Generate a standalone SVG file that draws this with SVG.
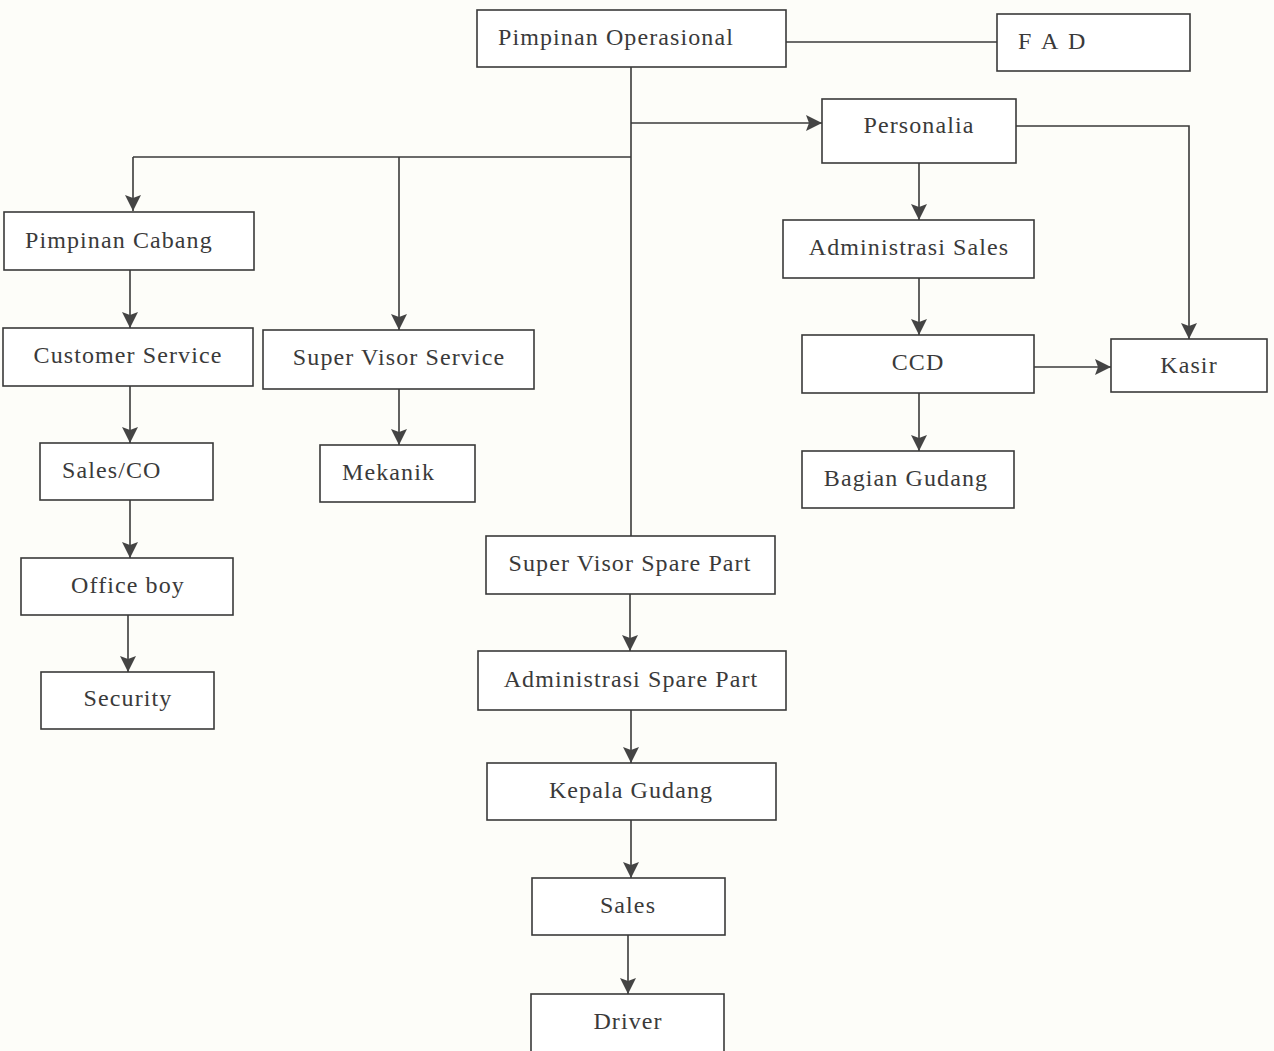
<svg xmlns="http://www.w3.org/2000/svg" width="1274" height="1051" viewBox="0 0 1274 1051">
<style>
.box{fill:#ffffff;stroke:#3a3a3a;stroke-width:1.6}
.lbl{font-family:"Liberation Serif","Times New Roman",serif;font-size:24px;letter-spacing:1.1px;fill:#3a3a3a}
.c{text-anchor:middle}
.ln{fill:none;stroke:#3a3a3a;stroke-width:1.6}
</style>
<defs>
<marker id="ah" markerUnits="userSpaceOnUse" markerWidth="18" markerHeight="18" refX="16" refY="8" orient="auto">
<path d="M0,0 L16,8 L0,16 L3,8 Z" fill="#444"/>
</marker>
</defs>
<rect width="1274" height="1051" fill="#fdfdf9"/>
<g id="connectors">
<line class="ln" x1="786" y1="42" x2="997" y2="42"/>
<line class="ln" x1="631" y1="67" x2="631" y2="537"/>
<line class="ln" x1="631" y1="123" x2="822" y2="123" marker-end="url(#ah)"/>
<polyline class="ln" points="1016,126 1189,126 1189,339" marker-end="url(#ah)"/>
<line class="ln" x1="133" y1="157" x2="631" y2="157"/>
<polyline class="ln" points="133,157 133,211" marker-end="url(#ah)"/>
<line class="ln" x1="399" y1="157" x2="399" y2="330" marker-end="url(#ah)"/>
<line class="ln" x1="130" y1="270" x2="130" y2="328" marker-end="url(#ah)"/>
<line class="ln" x1="130" y1="386" x2="130" y2="443" marker-end="url(#ah)"/>
<line class="ln" x1="130" y1="500" x2="130" y2="558" marker-end="url(#ah)"/>
<line class="ln" x1="128" y1="615" x2="128" y2="672" marker-end="url(#ah)"/>
<line class="ln" x1="399" y1="389" x2="399" y2="445" marker-end="url(#ah)"/>
<line class="ln" x1="919" y1="163" x2="919" y2="220" marker-end="url(#ah)"/>
<line class="ln" x1="919" y1="278" x2="919" y2="335" marker-end="url(#ah)"/>
<line class="ln" x1="1034" y1="367" x2="1111" y2="367" marker-end="url(#ah)"/>
<line class="ln" x1="919" y1="393" x2="919" y2="451" marker-end="url(#ah)"/>
<line class="ln" x1="630" y1="594" x2="630" y2="651" marker-end="url(#ah)"/>
<line class="ln" x1="631" y1="710" x2="631" y2="763" marker-end="url(#ah)"/>
<line class="ln" x1="631" y1="820" x2="631" y2="878" marker-end="url(#ah)"/>
<line class="ln" x1="628" y1="935" x2="628" y2="994" marker-end="url(#ah)"/>
</g>
<g id="pimpinan-operasional"><rect class="box" x="477" y="10" width="309" height="57"/><text class="lbl" x="498" y="45">Pimpinan Operasional</text></g>
<g id="fad"><rect class="box" x="997" y="14" width="193" height="57"/><text class="lbl" x="1018" y="49" style="letter-spacing:2.5px">F A D</text></g>
<g id="personalia"><rect class="box" x="822" y="99" width="194" height="64"/><text class="lbl c" x="919" y="133">Personalia</text></g>
<g id="pimpinan-cabang"><rect class="box" x="4" y="212" width="250" height="58"/><text class="lbl" x="25" y="248">Pimpinan Cabang</text></g>
<g id="customer-service"><rect class="box" x="3" y="328" width="250" height="58"/><text class="lbl c" x="128" y="363">Customer Service</text></g>
<g id="super-visor-service"><rect class="box" x="263" y="330" width="271" height="59"/><text class="lbl c" x="399" y="365">Super Visor Service</text></g>
<g id="sales-co"><rect class="box" x="40" y="443" width="173" height="57"/><text class="lbl" x="62" y="478">Sales/CO</text></g>
<g id="office-boy"><rect class="box" x="21" y="558" width="212" height="57"/><text class="lbl c" x="128" y="593">Office boy</text></g>
<g id="security"><rect class="box" x="41" y="672" width="173" height="57"/><text class="lbl c" x="128" y="706">Security</text></g>
<g id="mekanik"><rect class="box" x="320" y="445" width="155" height="57"/><text class="lbl" x="342" y="480">Mekanik</text></g>
<g id="administrasi-sales"><rect class="box" x="783" y="220" width="251" height="58"/><text class="lbl c" x="909" y="255">Administrasi Sales</text></g>
<g id="ccd"><rect class="box" x="802" y="335" width="232" height="58"/><text class="lbl c" x="918" y="370">CCD</text></g>
<g id="kasir"><rect class="box" x="1111" y="339" width="156" height="53"/><text class="lbl c" x="1189" y="373">Kasir</text></g>
<g id="bagian-gudang"><rect class="box" x="802" y="451" width="212" height="57"/><text class="lbl c" x="906" y="486">Bagian Gudang</text></g>
<g id="super-visor-spare-part"><rect class="box" x="486" y="536" width="289" height="58"/><text class="lbl c" x="630" y="571">Super Visor Spare Part</text></g>
<g id="administrasi-spare-part"><rect class="box" x="478" y="651" width="308" height="59"/><text class="lbl c" x="631" y="687">Administrasi Spare Part</text></g>
<g id="kepala-gudang"><rect class="box" x="487" y="763" width="289" height="57"/><text class="lbl c" x="631" y="798">Kepala Gudang</text></g>
<g id="sales"><rect class="box" x="532" y="878" width="193" height="57"/><text class="lbl c" x="628" y="913">Sales</text></g>
<g id="driver"><rect class="box" x="531" y="994" width="193" height="60"/><text class="lbl c" x="628" y="1029">Driver</text></g>
</svg>
